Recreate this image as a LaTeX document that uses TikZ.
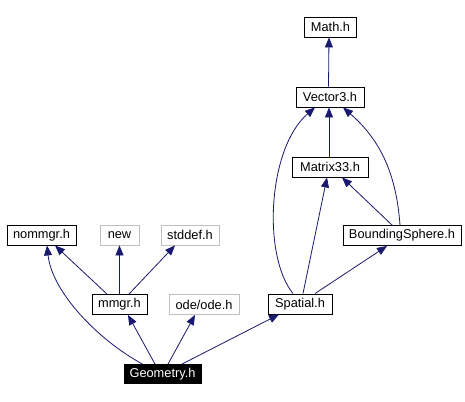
\documentclass[tikz,border=0pt]{standalone}
\usepackage{fontspec}
\setmainfont{Liberation Sans}
\usetikzlibrary{arrows.meta}
\definecolor{edgeblue}{HTML}{191970}
\definecolor{lightbord}{HTML}{BFBFBF}
\begin{document}
\begin{tikzpicture}[x=1pt,y=-1pt,
  box/.style={draw=black,line width=0.9pt,fill=white,inner sep=0pt,minimum height=20pt,font=\fontsize{12.8}{14}\selectfont},
  greybox/.style={box,draw=lightbord},
  rootbox/.style={box,fill=black,text=white},
  edge/.style={draw=edgeblue,line width=0.8pt,-{Triangle[length=10pt,width=8pt]}}]
\useasboundingbox[fill=white] (0,0) rectangle (465,401);
\node[box,minimum width=52pt] (math) at (330.5,27) {Math.h};
\node[box,minimum width=68pt] (vec) at (330,97) {Vector3.h};
\node[box,minimum width=76pt] (mat) at (330,167) {Matrix33.h};
\node[box,minimum width=118pt] (bs) at (402,235.5) {BoundingSphere.h};
\node[box,minimum width=64pt] (sp) at (300,304) {Spatial.h};
\node[box,minimum width=69pt] (nom) at (41.5,235) {nommgr.h};
\node[greybox,minimum width=39pt] (new) at (119.5,235) {new};
\node[greybox,minimum width=58pt] (std) at (190,235) {stddef.h};
\node[box,minimum width=55pt] (mm) at (119.5,304.5) {mmgr.h};
\node[greybox,minimum width=70pt] (ode) at (204,304.5) {ode/ode.h};
\node[rootbox,minimum width=77pt,minimum height=19pt] (geo) at (162.5,374) {Geometry.h};
% edges
\draw[edge] ([xshift=-20pt]geo.north) .. controls (98,340) and (52,292) .. ([xshift=5.5pt]nom.south);
\draw[edge] ([xshift=-7.5pt]geo.north) -- ([xshift=8.5pt]mm.south);
\draw[edge] ([xshift=5.5pt]geo.north) -- ([xshift=-9pt]ode.south);
\draw[edge] ([xshift=19.5pt]geo.north) -- ([xshift=-21pt]sp.south);
\draw[edge] ([xshift=-12.5pt]mm.north) -- ([xshift=13.5pt]nom.south);
\draw[edge] (mm.north) -- (new.south);
\draw[edge] ([xshift=9.5pt]mm.north) -- ([xshift=-15pt]std.south);
\draw[edge] ([xshift=-7pt]sp.north) .. controls (262,255) and (268,148) .. ([xshift=-15pt]vec.south);
\draw[edge] ([xshift=3pt]sp.north) -- ([xshift=-3pt]mat.south);
\draw[edge] ([xshift=15pt]sp.north) -- ([xshift=-15pt]bs.south);
\draw[edge] ([xshift=-10pt]bs.north) -- ([xshift=12pt]mat.south);
\draw[edge] ([xshift=-2pt]bs.north) .. controls (396,170) and (378,138) .. ([xshift=13pt]vec.south);
\draw[edge] ([xshift=-1pt]mat.north) -- ([xshift=-1pt]vec.south);
\draw[edge] ([xshift=-1.5pt]vec.north) -- ([xshift=-1.5pt]math.south);
\end{tikzpicture}
\end{document}
